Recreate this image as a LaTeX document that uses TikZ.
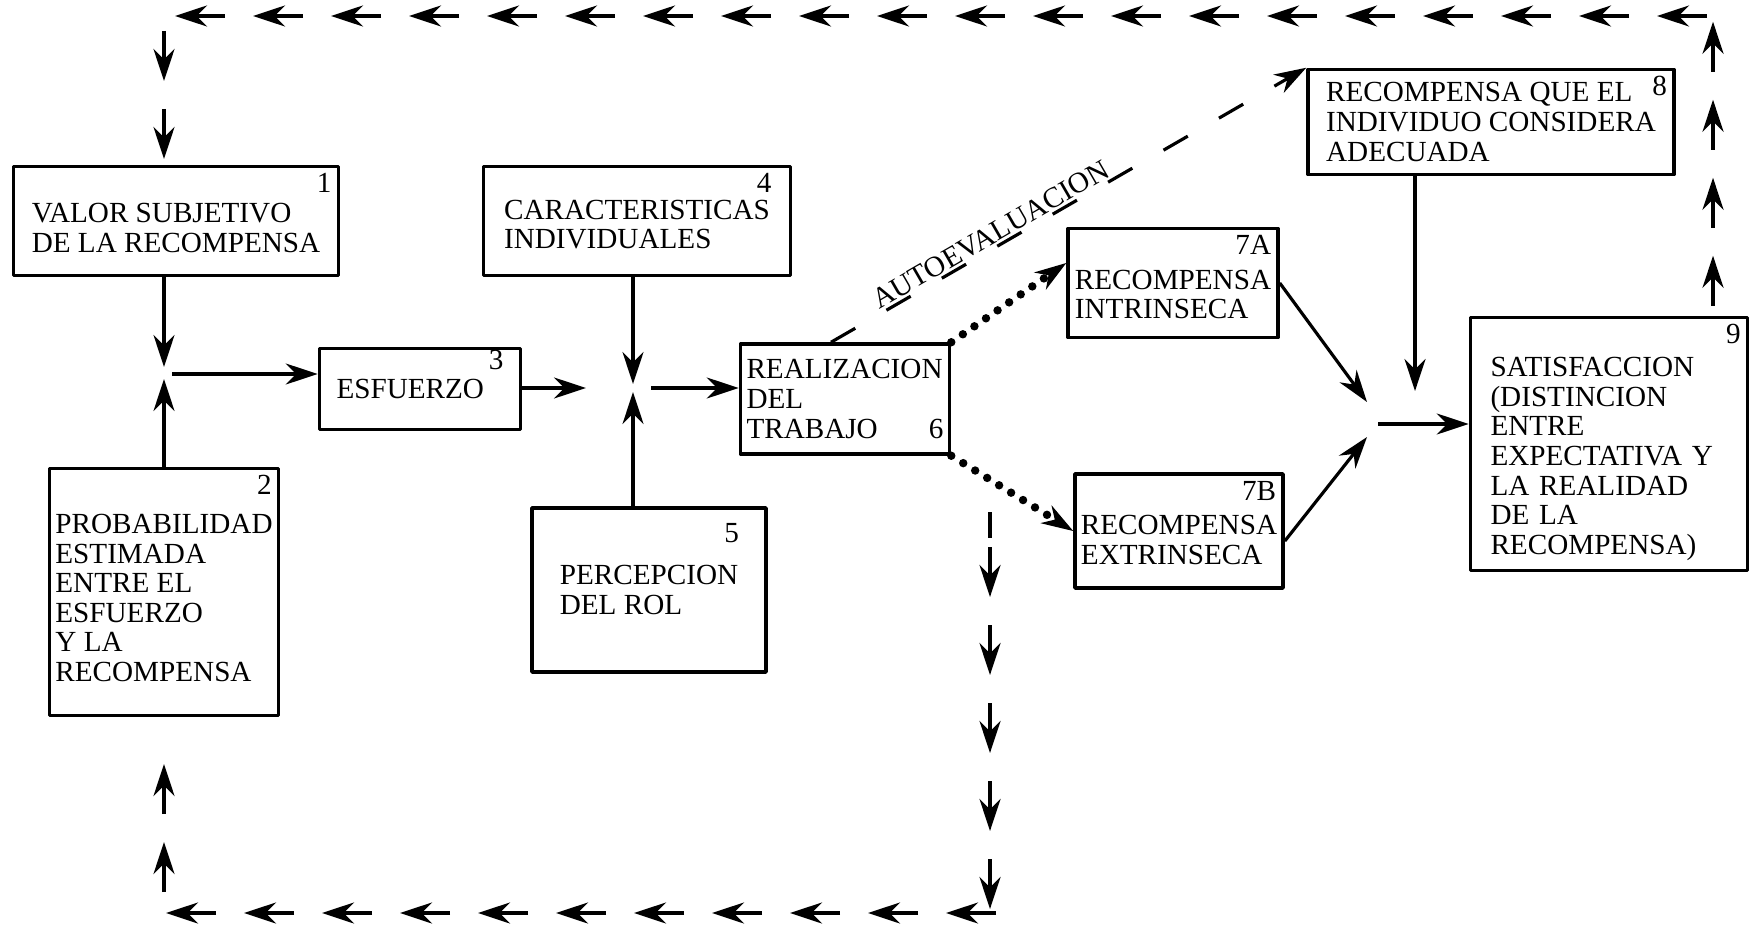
\documentclass[tikz,border=0pt]{standalone}
\usepackage{fontspec}
\setmainfont{Liberation Serif}
\usetikzlibrary{arrows.meta,decorations.markings}

\begin{document}
\begin{tikzpicture}[font=\fontsize{8.3}{8.4}\selectfont, line join=round, >={Stealth[length=3.2mm,width=2.1mm]},
	box/.style={draw, line width=1pt, align=left, inner xsep=.6mm, inner ysep=1mm},
	num/.style={anchor=north east, inner sep=.8mm},
	arr/.style={->, line width=.9pt},
	dotarr/.style={-{Stealth[length=3.2mm,width=2.1mm,line width=.4pt]}, line width=2.4pt, line cap=round, dash pattern=on 0pt off 4pt},
	flow/.style={postaction={decorate}, decoration={markings, mark=between positions #1 and 1 step 7.8mm with {\draw[->, line width=1pt] (-5mm,0) -- (0,0);}}},
	flow/.default=5mm]
	\useasboundingbox (0,0) rectangle (17.5,9.26);

	\node[box, minimum width=3.25cm, minimum height=1.09cm, label={[num]north east:1}] (valor) at (1.76,7.05) {\rule{0pt}{9.4pt}VALOR SUBJETIVO\\DE LA RECOMPENSA};
	\node[box, minimum width=2.27cm, minimum height=2.47cm, label={[num]north east:2}] (prob) at (1.64,3.34) {\rule{0pt}{8.8pt}PROBABILIDAD\\ESTIMADA\\ENTRE EL\\ESFUERZO\\Y LA\\RECOMPENSA};
	\node[box, minimum width=2.01cm, minimum height=.81cm] (esfuerzo) at (4.2,5.37) {ESFUERZO\,\raisebox{2.2ex}[0pt][0pt]{3}};
	\node[box, minimum width=3.07cm, minimum height=1.09cm, label={[num, xshift=-1.2mm]north east:4}] (caract) at (6.37,7.05) {\rule{0pt}{7.6pt}CARACTERISTICAS\\INDIVIDUALES};
	\node[box, minimum width=2.34cm, minimum height=1.64cm, label={[num, xshift=-2mm, yshift=-.8mm]north east:5}] (percep) at (6.49,3.36) {PERCEPCION\\DEL ROL};
	\node[box, text width=1.97cm, minimum height=1.1cm] (realiz) at (8.45,5.27) {REALIZACION\\DEL\\TRABAJO\hfill 6};
	\node[box, minimum width=2.1cm, minimum height=1.09cm, label={[num]north east:7A}] (intr) at (11.73,6.43) {\rule{0pt}{12pt}RECOMPENSA\\INTRINSECA};
	\node[box, minimum width=2.08cm, minimum height=1.14cm, label={[num]north east:7B}] (extr) at (11.79,3.95) {\rule{0pt}{10.6pt}RECOMPENSA\\EXTRINSECA};
	\node[box, minimum width=3.66cm, minimum height=1.05cm, label={[num]north east:8}] (adecuada) at (14.91,8.04) {RECOMPENSA QUE EL\\INDIVIDUO CONSIDERA\\ADECUADA};
	\node[box, text width=2.37cm, minimum width=2.77cm, minimum height=2.53cm, label={[num]north east:9}] (satisf) at (16.09,4.82) {\rule{0pt}{14pt}SATISFACCION\\(DISTINCION\\ENTRE\\EXPECTATIVA Y\\LA REALIDAD\\DE LA\\RECOMPENSA)};

	\coordinate (j1) at (1.64,5.52);
	\coordinate (j2) at (6.33,5.38);
	\coordinate (j3) at (13.75,5.02);
	\coordinate (j8) at (14.15,5.35);
	\coordinate (tr) at (17.13,9.1);
	\coordinate (tl) at (1.64,9.1);
	\coordinate (fb) at (9.9,4.14);
	\coordinate (br) at (9.9,.13);
	\coordinate (bl) at (1.64,.13);

	\draw[arr] (valor.south -| j1) -- ([yshift=.7mm]j1);
	\draw[arr] (prob.north -| j1) -- ([yshift=-.5mm]j1);
	\draw[arr] ([xshift=.8mm]j1) -- (j1 -| esfuerzo.west);
	\draw[arr] (esfuerzo.east |- j2) -- ([xshift=-4.7mm]j2);
	\draw[arr] (caract.south -| j2) -- ([yshift=.4mm]j2);
	\draw[arr] (percep.north -| j2) -- ([yshift=-.4mm]j2);
	\draw[arr] ([xshift=1.8mm]j2) -- (j2 -| realiz.west);
	\draw[dotarr] (realiz.north east) -- ([yshift=2mm]intr.west);
	\draw[dotarr] (realiz.south east) -- (extr.west);
	\draw[arr] (intr.east) -- ([shift={(-.8mm,2.2mm)}]j3);
	\draw[arr] ([yshift=-1mm]extr.east) -- ([shift={(-.8mm,-1.3mm)}]j3);
	\draw[arr] (adecuada.south -| j8) -- (j8);
	\draw[arr] ([xshift=.3mm]j3) -- (j3 -| satisf.west);
	\draw[->, line width=.9pt, dash pattern=on 2.8mm off 3.6mm] ([xshift=-1.4mm]realiz.north) -- (adecuada.north west) node[pos=.35, sloped, above, inner sep=.5pt] (autoeval) {AUTOEVALUACION};

	\path[flow] ([yshift=1mm]satisf.north -| tr) -- (tr);
	\path[flow=5.6mm] (tr) -- (tl);
	\path[flow] ([yshift=-1.5mm]tl) -- (valor.north -| tl);
	\draw[line width=1pt] (fb) -- ([yshift=-2.6mm]fb);
	\path[flow] ([yshift=-3.5mm]fb) -- (br);
	\path[flow=4.4mm] (br) -- (bl);
	\path[flow] ([yshift=2.1mm]bl) -- ([yshift=-4.5mm]prob.south -| bl);
\end{tikzpicture}
\end{document}
